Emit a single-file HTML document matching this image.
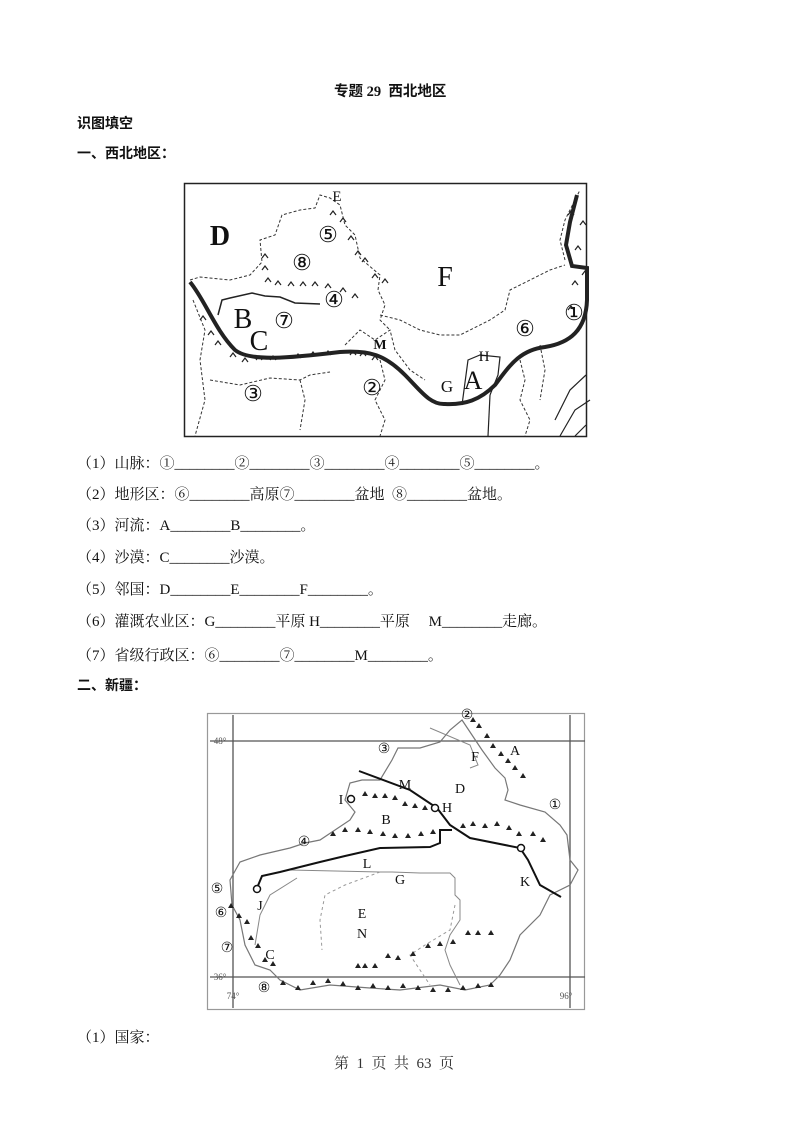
<!DOCTYPE html>
<html><head><meta charset="utf-8">
<style>
body{margin:0;width:793px;height:1122px;background:#fff;position:relative;font-family:"Liberation Serif","Noto Serif CJK SC",serif;color:#111;overflow:hidden}
.t{position:absolute;font-size:15px;white-space:pre;line-height:16px}
.b{font-weight:bold;font-family:"Liberation Serif","Noto Sans CJK SC",sans-serif;font-size:14px}
svg{position:absolute;left:0;top:0}
</style></head><body>
<div class="t b" style="left:334px;top:84px;font-size:14.5px">专题 29  西北地区</div>
<div class="t b" style="left:77px;top:117px">识图填空</div>
<div class="t b" style="left:77px;top:147px">一、西北地区：</div>

<div class="t" style="left:77px;top:456px">（1）山脉：①________②________③________④________⑤________。</div>
<div class="t" style="left:77px;top:487px">（2）地形区：⑥________高原⑦________盆地  ⑧________盆地。</div>
<div class="t" style="left:77px;top:518px">（3）河流：A________B________。</div>
<div class="t" style="left:77px;top:550px">（4）沙漠：C________沙漠。</div>
<div class="t" style="left:77px;top:582px">（5）邻国：D________E________F________。</div>
<div class="t" style="left:77px;top:614px">（6）灌溉农业区：G________平原 H________平原     M________走廊。</div>
<div class="t" style="left:77px;top:648px">（7）省级行政区：⑥________⑦________M________。</div>
<div class="t b" style="left:77px;top:679px">二、新疆：</div>
<div class="t" style="left:77px;top:1030px">（1）国家：</div>
<div class="t" style="left:334px;top:1056px;color:#333">第  1  页  共  63  页</div>

<svg width="793" height="1122" viewBox="0 0 793 1122">
<g fill="none" stroke="#222">
<rect x="184.5" y="183.5" width="402" height="253" stroke-width="1.5"/>
<g stroke-dasharray="3,2" stroke-width="1" stroke="#333">
<path d="M190 280 L200 277 L230 280 L250 275 L262 262 L260 240 L275 235 L282 215 L300 210 L315 208 L320 195 L330 198 L340 205 L345 225 L355 235 L360 258 L380 275 L378 290 L385 305 L380 320 L390 330"/>
<path d="M380 315 L400 320 L420 330 L440 335 L460 335 L470 330 L490 320 L505 310 L510 290 L530 280 L550 270 L565 265"/>
<path d="M565 260 L560 240 L565 220 L575 200 L580 190"/>
<path d="M210 380 L240 385 L270 378 L300 380 L310 375 L330 372"/>
<path d="M300 380 L305 400 L300 430 M380 360 L385 380 L375 400 L385 420 L380 436"/>
<path d="M345 345 L360 330 L375 340 L390 330 L395 350 L410 370 L425 380"/>
<path d="M193 300 L205 330 L200 360 L205 400 L195 436"/>
<path d="M520 360 L525 380 L520 400 L530 420 L525 436 M540 345 L545 370 L540 400"/>
</g>
<path d="M462 405 L468 360 L480 355 L500 357 L498 375 L490 395" stroke-width="1.2"/>
<path d="M490 395 L488 436" stroke-width="1.2"/>
<path d="M560 436 L575 410 L590 400 M555 420 L570 390 L586 375 M575 436 L586 425" stroke-width="1.2"/>
<path d="M190 282 C205 300 215 330 235 350 C250 362 290 358 340 352 C370 350 385 355 405 375 C420 390 430 405 445 404 C465 405 480 400 495 385 C510 365 520 350 545 347 C570 343 586 330 587 300 L587 268 L572 266 L566 245 L570 222 L577 195" stroke-width="4"/>
<path d="M218 315 L222 300 L230 298 L252 293 L265 296 L280 297 L295 303 L320 304" stroke-width="1.5"/>

<rect x="207.5" y="713.5" width="377" height="296" stroke="#999" stroke-width="1.2"/>
<path d="M210 741 H585 M210 977 H585 M233 715 V1008 M570 715 V1008" stroke="#555" stroke-width="1.3"/>
<path d="M462 720 L470 732 L482 750 L495 768 L505 778 L508 790 L505 800 L520 805 L545 812 L560 825 L567 835 L570 860 L578 870 L570 885 L550 895 L540 915 L520 935 L510 960 L500 975 L490 985 L465 990 L440 985 L400 990 L370 988 L330 985 L300 990 L280 980 L270 970 L255 965 L245 945 L240 920 L232 905 L230 880 L240 862 L260 855 L290 848 L305 843 L320 840 L335 830 L350 820 L355 812 L345 800 L350 783 L362 780 L380 780 L392 760 L398 748 L420 748 L440 742 L450 730 Z" stroke="#777" stroke-width="1.2"/>
<path d="M430 728 L470 745 L478 765 L470 768" stroke="#888" stroke-width="1"/>
<path d="M290 870 L380 872 L392 872 L420 873 L450 873 L455 878 L455 895 L460 900 L460 920 L450 935 L445 950 L450 965 L460 985" stroke="#888" stroke-width="1"/>
<path d="M297 878 L270 895 L260 915 L255 945" stroke="#888" stroke-width="1"/>
<g stroke="#999" stroke-dasharray="3,3"><path d="M380 872 L345 885 L325 895 L320 920 L322 950"/><path d="M455 905 L450 930 L425 945 L410 955 L420 970 L430 985"/></g>
<path d="M359 771 L410 790 L437 808 L450 825 L470 838 L520 848 L528 860 L540 885 L561 897" stroke="#111" stroke-width="2"/>
<path d="M257 888 L262 876 L280 872 L320 862 L345 856 L380 848 L430 847 L440 843 L440 830 L452 830" stroke="#111" stroke-width="2"/>
</g>
<g fill="#fff" stroke="#111" stroke-width="1.5">
<circle cx="351" cy="799" r="3.5"/><circle cx="435" cy="808" r="3.5"/><circle cx="521" cy="848" r="3.5"/><circle cx="257" cy="889" r="3.5"/>
</g>
<g fill="#222">
<path id="m" d="M0 0 l3 -5 l3 5 z"/>
</g>
<g fill="#222">
<use href="#m" x="470" y="722"/><use href="#m" x="476" y="728"/><use href="#m" x="484" y="738"/><use href="#m" x="490" y="748"/><use href="#m" x="498" y="756"/><use href="#m" x="505" y="763"/><use href="#m" x="512" y="770"/><use href="#m" x="520" y="778"/>
<use href="#m" x="362" y="796"/><use href="#m" x="372" y="798"/><use href="#m" x="382" y="798"/><use href="#m" x="392" y="800"/><use href="#m" x="402" y="806"/><use href="#m" x="412" y="808"/><use href="#m" x="422" y="810"/>
<use href="#m" x="330" y="836"/><use href="#m" x="342" y="832"/><use href="#m" x="355" y="832"/><use href="#m" x="367" y="834"/><use href="#m" x="380" y="836"/><use href="#m" x="392" y="838"/><use href="#m" x="405" y="838"/><use href="#m" x="418" y="836"/><use href="#m" x="430" y="834"/>
<use href="#m" x="460" y="828"/><use href="#m" x="470" y="826"/><use href="#m" x="482" y="828"/><use href="#m" x="494" y="826"/><use href="#m" x="506" y="830"/><use href="#m" x="516" y="836"/><use href="#m" x="530" y="836"/><use href="#m" x="540" y="842"/>
<use href="#m" x="228" y="908"/><use href="#m" x="236" y="918"/><use href="#m" x="244" y="924"/><use href="#m" x="248" y="940"/><use href="#m" x="255" y="948"/><use href="#m" x="262" y="962"/><use href="#m" x="270" y="966"/>
<use href="#m" x="280" y="985"/><use href="#m" x="295" y="990"/><use href="#m" x="310" y="985"/><use href="#m" x="325" y="983"/><use href="#m" x="340" y="986"/><use href="#m" x="355" y="990"/><use href="#m" x="370" y="988"/><use href="#m" x="385" y="990"/><use href="#m" x="400" y="988"/><use href="#m" x="415" y="990"/><use href="#m" x="430" y="992"/><use href="#m" x="445" y="992"/><use href="#m" x="460" y="990"/><use href="#m" x="475" y="988"/><use href="#m" x="488" y="987"/>
<use href="#m" x="355" y="968"/><use href="#m" x="362" y="968"/><use href="#m" x="372" y="968"/><use href="#m" x="385" y="958"/><use href="#m" x="395" y="960"/><use href="#m" x="410" y="956"/><use href="#m" x="425" y="948"/><use href="#m" x="437" y="946"/><use href="#m" x="450" y="944"/><use href="#m" x="465" y="935"/><use href="#m" x="475" y="935"/><use href="#m" x="488" y="935"/>
</g>
<g stroke="#222" stroke-width="1.2" fill="none">
<path d="M200 320 l3 -4 l3 4 M208 335 l3 -4 l3 4 M215 345 l3 -4 l3 4 M230 357 l3 -4 l3 4 M242 362 l3 -4 l3 4 M256 360 l3 -4 l3 4 M270 360 l3 -4 l3 4 M295 358 l3 -4 l3 4 M310 356 l3 -4 l3 4 M325 355 l3 -4 l3 4 M350 355 l3 -4 l3 4 M360 356 l3 -4 l3 4 M372 360 l3 -4 l3 4"/>
<path d="M265 282 l3 -4 l3 4 M275 285 l3 -4 l3 4 M288 286 l3 -4 l3 4 M300 286 l3 -4 l3 4 M312 286 l3 -4 l3 4 M325 288 l3 -4 l3 4 M340 292 l3 -4 l3 4 M352 298 l3 -4 l3 4 M262 258 l3 -4 l3 4 M262 270 l3 -4 l3 4"/>
<path d="M330 215 l3 -4 l3 4 M340 222 l3 -4 l3 4 M348 240 l3 -4 l3 4 M355 255 l3 -4 l3 4 M362 262 l3 -4 l3 4 M372 278 l3 -4 l3 4 M382 283 l3 -4 l3 4"/>
<path d="M568 215 l3 -4 l3 4 M580 225 l3 -4 l3 4 M575 250 l3 -4 l3 4 M582 275 l3 -4 l3 4 M572 285 l3 -4 l3 4 M568 310 l3 -4 l3 4"/>
</g>
<g font-family="Liberation Serif,serif" fill="#111" text-anchor="middle">
<text x="220" y="245" font-size="28" font-weight="bold">D</text>
<text x="337" y="201" font-size="15">E</text>
<text x="328" y="242" font-size="22">⑤</text>
<text x="302" y="270" font-size="22">⑧</text>
<text x="445" y="286" font-size="28">F</text>
<text x="334" y="307" font-size="22">④</text>
<text x="243" y="328" font-size="28">B</text>
<text x="284" y="328" font-size="22">⑦</text>
<text x="259" y="350" font-size="28">C</text>
<text x="525" y="336" font-size="22">⑥</text>
<text x="574" y="320" font-size="22">①</text>
<text x="380" y="349" font-size="14" font-weight="bold">M</text>
<text x="484" y="361" font-size="15">H</text>
<text x="372" y="395" font-size="22">②</text>
<text x="447" y="392" font-size="17">G</text>
<text x="473" y="389" font-size="26">A</text>
<text x="253" y="401" font-size="22">③</text>
</g>
<g font-family="Liberation Serif,serif" fill="#111" text-anchor="middle" font-size="14">
<text x="467" y="719">②</text>
<text x="384" y="753">③</text>
<text x="475" y="761">F</text>
<text x="515" y="755">A</text>
<text x="405" y="789">M</text>
<text x="460" y="793">D</text>
<text x="341" y="804">I</text>
<text x="447" y="812">H</text>
<text x="555" y="809">①</text>
<text x="386" y="824">B</text>
<text x="304" y="846">④</text>
<text x="367" y="868">L</text>
<text x="400" y="884">G</text>
<text x="525" y="886">K</text>
<text x="217" y="893">⑤</text>
<text x="260" y="910">J</text>
<text x="221" y="917">⑥</text>
<text x="362" y="918">E</text>
<text x="362" y="938">N</text>
<text x="227" y="952">⑦</text>
<text x="270" y="959">C</text>
<text x="264" y="992">⑧</text>
<text x="220" y="744" font-size="9" fill="#555">48°</text>
<text x="220" y="980" font-size="9" fill="#555">36°</text>
<text x="233" y="999" font-size="9" fill="#555">74°</text>
<text x="566" y="999" font-size="9" fill="#555">96°</text>
</g>
</svg>
</body></html>
